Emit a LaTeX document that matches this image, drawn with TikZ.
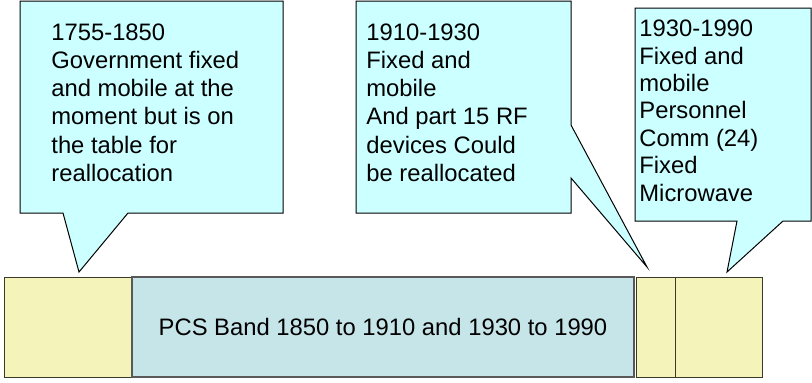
\documentclass[tikz,border=0pt]{standalone}
\usepackage{fontspec}
\setmainfont{Liberation Sans}

\definecolor{calloutfill}{HTML}{CCFFFF}
\definecolor{bandyellow}{HTML}{F3F3BA}
\definecolor{bandcyan}{HTML}{C6E5E9}
\definecolor{bandedge}{HTML}{3A3A2A}

\tikzset{
  callout/.style={draw=black, line width=0.5pt, fill=calloutfill, line join=miter},
  callouttext/.style={anchor=north west, inner sep=0pt, align=left,
    font=\fontsize{11.9}{14.15}\selectfont},
  yellowbox/.style={draw=bandedge, line width=0.5pt, fill=bandyellow},
  cyanbox/.style={draw=black!65, line width=0.8pt, fill=bandcyan}
}

\begin{document}
\begin{tikzpicture}[x=0.5pt,y=-0.5pt]
\useasboundingbox (0,0) rectangle (812,382);

%% band
\draw[yellowbox] (4,277) rectangle (131,377);     %% 1755-1850
\draw[cyanbox] (132,277) rectangle (634,377);     %% pcs
\draw[yellowbox] (636,277) rectangle (675,377);   %% 1910-1930
\draw[yellowbox] (675,277) rectangle (762,377);   %% 1930-1990

%% band label
\node[font=\fontsize{11.9}{14}\selectfont, inner sep=0pt] (pcs) at (383,327)
  {PCS Band 1850 to 1910 and 1930 to 1990};

%% callouts
\draw[callout] (20,1) -- (283,1) -- (283,213) -- (128,213) -- (79,272) -- (63,213) -- (20,213) -- cycle;     %% low
\draw[callout] (356,1) -- (571,1) -- (571,125) -- (647,267) -- (571,178) -- (571,213) -- (356,213) -- cycle; %% mid
\draw[callout] (635,8) -- (811,8) -- (811,221) -- (783,221) -- (727,272) -- (737,221) -- (635,221) -- cycle; %% high

%% callout texts
\node[callouttext] (lowtext) at (51,23)
  {1755-1850\\Government fixed\\and mobile at the\\moment but is on\\the table for\\reallocation};
\node[callouttext] (midtext) at (366,23)
  {1910-1930\\Fixed and\\mobile\\And part 15 RF\\devices Could\\be reallocated};
\node[callouttext, font=\fontsize{11.9}{13.7}\selectfont] (hightext) at (639,19.7)
  {1930-1990\\Fixed and\\mobile\\Personnel\\Comm (24)\\Fixed\\Microwave};

\end{tikzpicture}
\end{document}
